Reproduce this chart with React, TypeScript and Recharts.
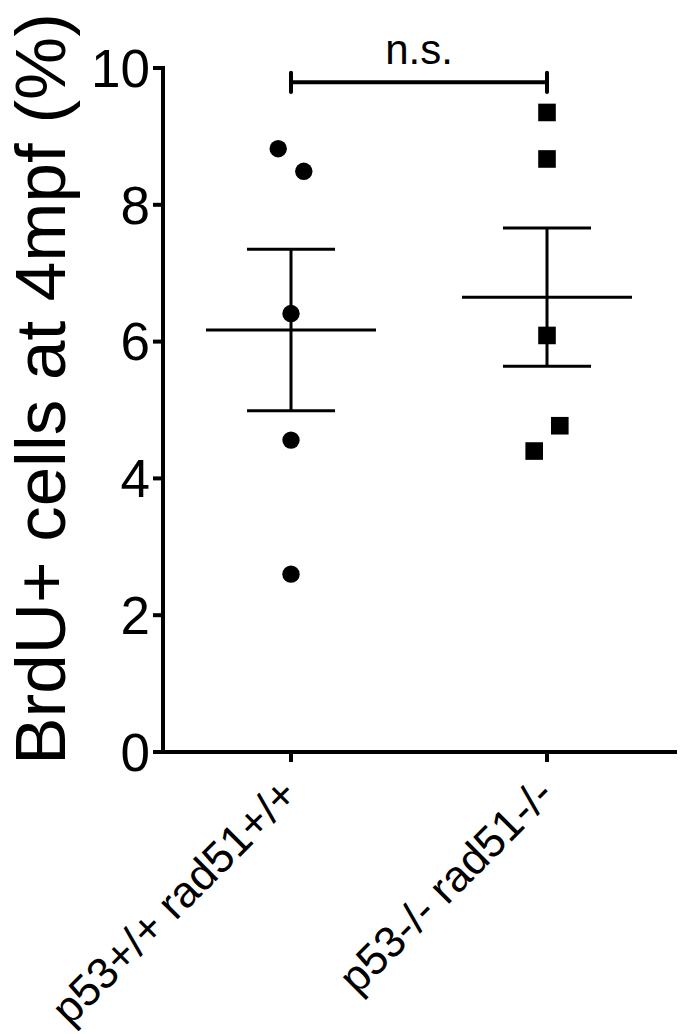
import React from "react";
import {
  ScatterChart,
  Scatter,
  XAxis,
  YAxis,
  ReferenceLine,
} from "recharts";

const FONT = "'Liberation Sans', Arial, Helvetica, sans-serif";

// Categories and their positions on the numeric x axis
const categories = ["p53+/+ rad51+/+", "p53-/- rad51-/-"];
const categoryX = [1, 2];

// Individual measurements (x = category position with small jitter)
const group1X = [0.95, 1.05, 1, 1, 1];
const group1Y = [8.82, 8.49, 6.41, 4.56, 2.6];
const group2X = [2, 2, 2, 2.05, 1.95];
const group2Y = [9.35, 8.67, 6.09, 4.77, 4.4];

// Mean and SEM per group
const means = [6.17, 6.65];
const sems = [1.18, 1.01];

// Axis ticks
const yTicks = [0, 2, 4, 6, 8, 10];

// Significance annotation
const sigLabel = "n.s.";
const sigLevel = 9.79;
const sigTick = 0.14;

const MEAN_HALF = 0.332;
const CAP_HALF = 0.172;

const g1 = group1X.map((x, i) => ({ x, y: group1Y[i] }));
const g2 = group2X.map((x, i) => ({ x, y: group2Y[i] }));

const CircleShape = (props: any) => (
  <circle cx={props.cx} cy={props.cy} r={8.7} fill="#000" />
);
const SquareShape = (props: any) => (
  <rect x={props.cx - 8.8} y={props.cy - 8.8} width={17.6} height={17.6} fill="#000" />
);

const XTick = (props: any) => {
  const { x, y, payload } = props;
  const idx = categoryX.indexOf(payload.value);
  const ax = x + 9;
  const ay = y + 33;
  return (
    <text
      x={ax}
      y={ay}
      transform={`rotate(-45, ${ax}, ${ay})`}
      textAnchor="end"
      fontSize={44}
      fontFamily={FONT}
      fill="#000"
    >
      {idx >= 0 ? categories[idx] : ""}
    </text>
  );
};

const YLabel = (props: any) => {
  const vb = props.viewBox || { x: 0, y: 68, width: 163, height: 684 };
  const lx = vb.x + 65;
  const ly = vb.y + vb.height / 2 - 21;
  return (
    <text
      x={lx}
      y={ly}
      transform={`rotate(-90, ${lx}, ${ly})`}
      textAnchor="middle"
      fontSize={71}
      fontFamily={FONT}
      fill="#000"
    >
      BrdU+ cells at 4mpf (%)
    </text>
  );
};

export default function App() {
  const lineStyle = { stroke: "#000", strokeWidth: 3 };
  return (
    <div style={{ position: "absolute", left: 0, top: 0, background: "#fff" }}>
      <ScatterChart
        width={684}
        height={1034}
        margin={{ top: 68, right: 9, left: 0, bottom: 0 }}
      >
        <XAxis
          type="number"
          dataKey="x"
          domain={[0.5, 2.5]}
          ticks={categoryX}
          allowDataOverflow
          height={282}
          tickSize={10}
          axisLine={{ stroke: "#000", strokeWidth: 4, strokeLinecap: "square" }}
          tickLine={{ stroke: "#000", strokeWidth: 4 }}
          tick={<XTick />}
          interval={0}
        />
        <YAxis
          type="number"
          dataKey="y"
          domain={[0, 10]}
          ticks={yTicks}
          allowDataOverflow
          width={163}
          tickSize={10}
          tickMargin={3}
          interval={0}
          axisLine={{ stroke: "#000", strokeWidth: 4, strokeLinecap: "square" }}
          tickLine={{ stroke: "#000", strokeWidth: 4 }}
          tick={{ fontSize: 53, fill: "#000", fontFamily: FONT }}
          label={<YLabel />}
        />
        {/* mean lines */}
        {categoryX.map((cx, i) => (
          <ReferenceLine
            key={`mean-${i}`}
            segment={[
              { x: cx - MEAN_HALF, y: means[i] },
              { x: cx + MEAN_HALF, y: means[i] },
            ]}
            {...lineStyle}
            ifOverflow="visible"
          />
        ))}
        {/* SEM vertical */}
        {categoryX.map((cx, i) => (
          <ReferenceLine
            key={`sem-${i}`}
            segment={[
              { x: cx, y: means[i] - sems[i] },
              { x: cx, y: means[i] + sems[i] },
            ]}
            {...lineStyle}
            ifOverflow="visible"
          />
        ))}
        {/* SEM caps */}
        {categoryX.map((cx, i) => (
          <ReferenceLine
            key={`capt-${i}`}
            segment={[
              { x: cx - CAP_HALF, y: means[i] + sems[i] },
              { x: cx + CAP_HALF, y: means[i] + sems[i] },
            ]}
            {...lineStyle}
            ifOverflow="visible"
          />
        ))}
        {categoryX.map((cx, i) => (
          <ReferenceLine
            key={`capb-${i}`}
            segment={[
              { x: cx - CAP_HALF, y: means[i] - sems[i] },
              { x: cx + CAP_HALF, y: means[i] - sems[i] },
            ]}
            {...lineStyle}
            ifOverflow="visible"
          />
        ))}
        {/* significance bracket */}
        <ReferenceLine
          segment={[
            { x: categoryX[0], y: sigLevel },
            { x: categoryX[1], y: sigLevel },
          ]}
          stroke="#000"
          strokeWidth={4}
          ifOverflow="visible"
          label={{
            value: sigLabel,
            position: "top",
            offset: 18,
            fontSize: 42,
            fill: "#000",
            fontFamily: FONT,
          }}
        />
        {categoryX.map((cx, i) => (
          <ReferenceLine
            key={`sigtick-${i}`}
            segment={[
              { x: cx, y: sigLevel - sigTick },
              { x: cx, y: sigLevel + sigTick },
            ]}
            stroke="#000"
            strokeWidth={4}
            strokeLinecap="round"
            ifOverflow="visible"
          />
        ))}
        <Scatter data={g1} shape={<CircleShape />} isAnimationActive={false} />
        <Scatter data={g2} shape={<SquareShape />} isAnimationActive={false} />
      </ScatterChart>
    </div>
  );
}
